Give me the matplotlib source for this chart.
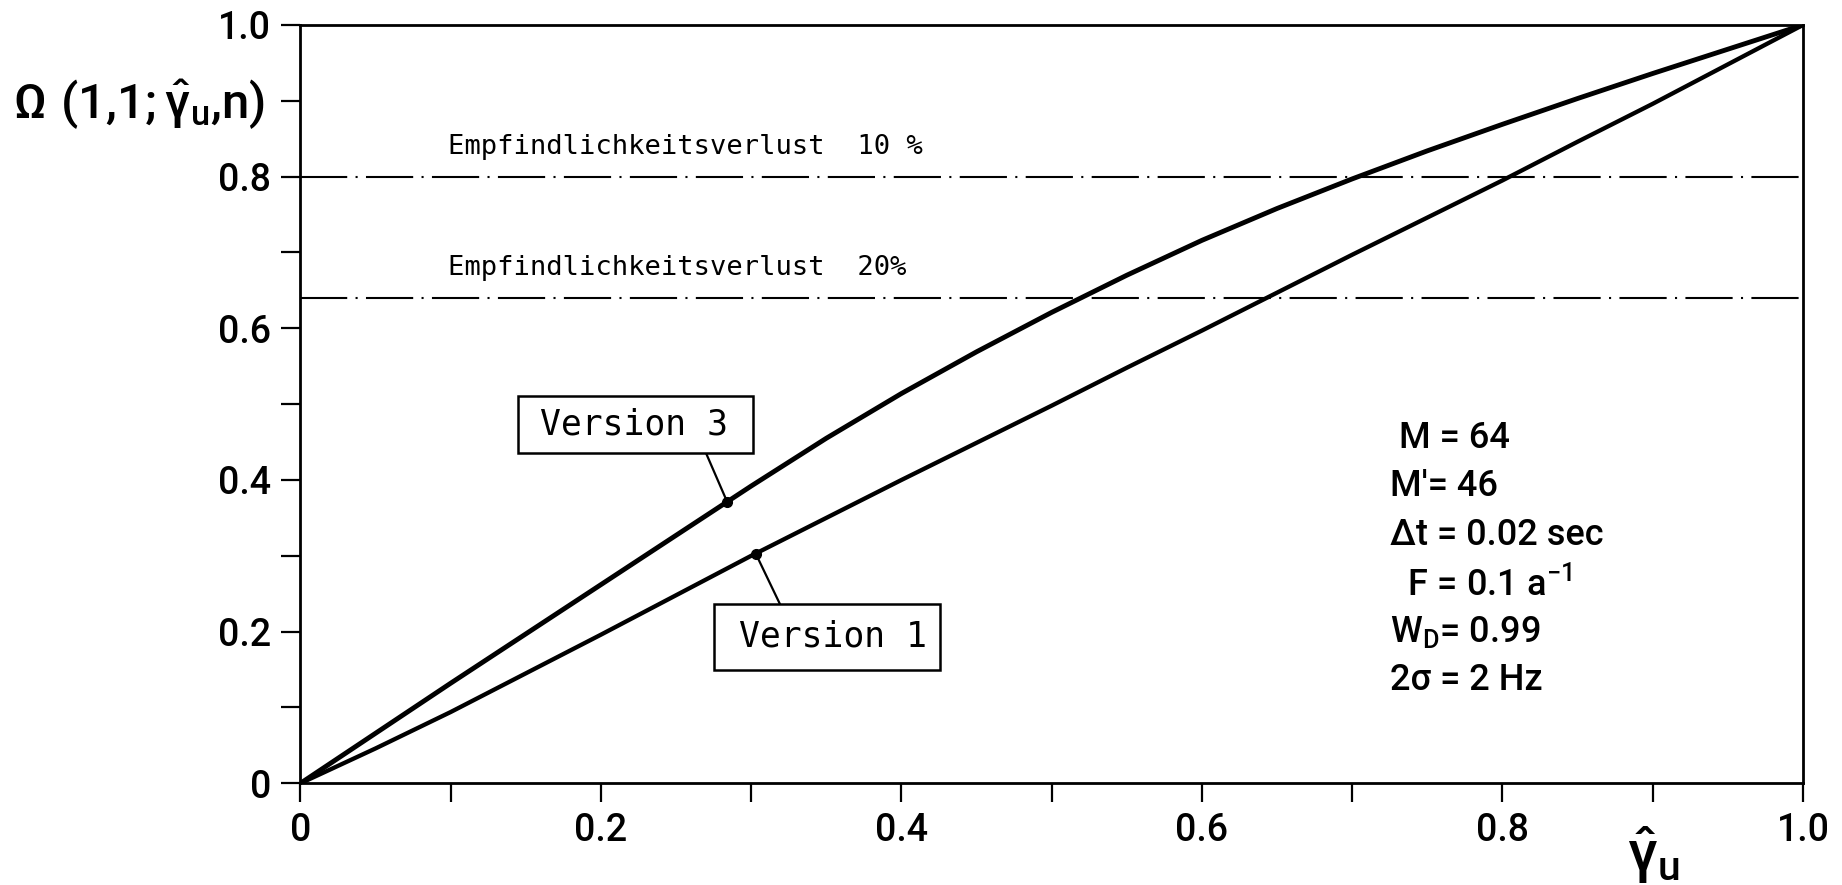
import numpy as np
import matplotlib
matplotlib.use("Agg")
import matplotlib.pyplot as plt
from matplotlib.patches import Rectangle

plt.rcParams['font.family'] = ['Roboto', 'DejaVu Sans']
plt.rcParams['mathtext.fontset'] = 'custom'
plt.rcParams['mathtext.rm'] = 'Roboto:medium'
plt.rcParams['mathtext.it'] = 'Roboto:medium'
plt.rcParams['mathtext.bf'] = 'Roboto:bold'
plt.rcParams['lines.scale_dashes'] = False

# detection probability vs. normalised threshold
gamma_u = [0.0, 0.05, 0.10, 0.15, 0.20, 0.25, 0.30, 0.35, 0.40, 0.45, 0.50,
           0.55, 0.60, 0.65, 0.70, 0.75, 0.80, 0.85, 0.90, 0.95, 1.0]
omega_v3 = [0.0, 0.066, 0.132, 0.197, 0.262, 0.327, 0.392, 0.455, 0.514, 0.569, 0.621,
            0.670, 0.716, 0.758, 0.797, 0.834, 0.869, 0.903, 0.936, 0.968, 1.0]
omega_v1 = [0.0, 0.046, 0.094, 0.145, 0.196, 0.248, 0.300, 0.350, 0.400, 0.449, 0.498,
            0.548, 0.597, 0.647, 0.697, 0.746, 0.795, 0.846, 0.896, 0.948, 1.0]

loss_levels = [0.8, 0.64]
loss_labels = ["Empfindlichkeitsverlust  10 %", "Empfindlichkeitsverlust  20%"]

params = [" M = 64",
          "M\u2032= 46",
          "\u0394t = 0.02 sec",
          "  F = 0.1 a$^{-1}$",
          "W$_{\\mathrm{D}}$= 0.99",
          "2\u03c3 = 2 Hz"]

tick_vals = np.round(np.arange(0, 1.01, 0.1), 1)
label_vals = [0.0, 0.2, 0.4, 0.6, 0.8, 1.0]

mono = ['DejaVu Sans Mono']

fig = plt.figure(figsize=(18.42, 8.85), dpi=100)
ax = fig.add_axes([0.1631, 0.1149, 0.8157, 0.8569])
ax.set_xlim(0, 1)
ax.set_ylim(0, 1)

for s in ax.spines.values():
    s.set_linewidth(2.0)

def fmt(v):
    return "0" if v == 0 else f"{v:.1f}"

ax.set_xticks(tick_vals)
ax.set_xticklabels([fmt(v) if v in label_vals else "" for v in tick_vals])
ax.set_yticks(tick_vals)
ax.set_yticklabels([fmt(v) if v in label_vals else "" for v in tick_vals])
ax.tick_params(direction='out', length=14, width=1.6, labelsize=27, pad=7)
for lab in ax.get_xticklabels() + ax.get_yticklabels():
    lab.set_fontweight('medium')

# sensitivity-loss reference lines
for lvl, txt in zip(loss_levels, loss_labels):
    ax.axhline(lvl, color='black', lw=1.5, dashes=(34, 6, 1.5, 6))
    ax.text(0.098, lvl + 0.03, txt, fontsize=19.5, family=mono,
            ha='left', va='baseline')

ax.plot(gamma_u, omega_v3, color='black', lw=3.5, solid_capstyle='round',
        solid_joinstyle='round')
ax.plot(gamma_u, omega_v1, color='black', lw=3.1, solid_capstyle='round',
        solid_joinstyle='round')

# labelled points on each curve
p3x = 0.284
p3y = float(np.interp(p3x, gamma_u, omega_v3))
p1x = 0.303
p1y = float(np.interp(p1x, gamma_u, omega_v1))
ax.plot([p3x, p1x], [p3y, p1y], 'o', color='black', ms=7)

def label_box(x0, x1, y0, y1, text, tx, ty):
    ax.add_patch(Rectangle((x0, y0), x1 - x0, y1 - y0, fc='white',
                           ec='black', lw=1.8, zorder=4))
    ax.text(tx, ty, text, fontsize=25, family=mono, ha='center',
            va='center', zorder=5)

# leader lines from box edge to the curve point
ax.plot([0.2699, p3x], [0.4356, p3y], color='black', lw=1.6, zorder=3)
ax.plot([0.3191, p1x], [0.2365, p1y], color='black', lw=1.6, zorder=3)
label_box(0.1448, 0.3012, 0.4356, 0.5108, "Version 3", 0.222, 0.473)
label_box(0.2752, 0.4256, 0.1494, 0.2365, "Version 1", 0.3545, 0.193)

# simulation parameters
y0 = 0.455
dy = 0.064
for i, p in enumerate(params):
    ax.text(0.725, y0 - i * dy, p, fontsize=26, fontweight='medium',
            ha='left', va='center')

fig.text(0.007, 0.8825, r"$\Omega\ (1{,}1{;}\hat{\gamma}_{\mathrm{u}}{,}n)$",
         fontsize=35.5, ha='left', va='center')
ax.text(0.9, -0.095, r"$\hat{\gamma}_{\mathrm{u}}$", fontsize=42,
        ha='center', va='center', transform=ax.transData)

fig.savefig("out.png", dpi=100)
